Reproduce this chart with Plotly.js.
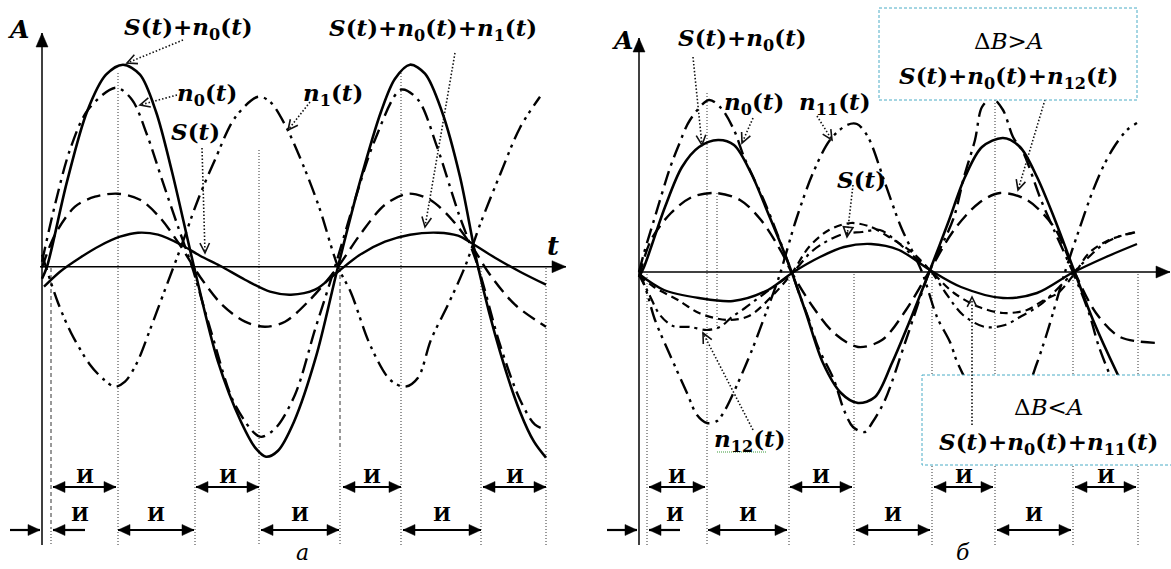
<!DOCTYPE html>
<html><head><meta charset="utf-8">
<script src="https://cdn.plot.ly/plotly-3.0.1.min.js"></script>
<style>html,body{margin:0;padding:0;background:#fff}#chart{width:1171px;height:569px}</style>
</head><body><div id="chart"></div>
<script>
// ===== Panel a (t from origin, amplitude A) =====
const a_SN0_t = [0,5,25,45,64,81,98,114,130,152,176,199,214,224,236,252,274,296,318,339,353,368,383,400,418,436,458,478,492,504];
const a_SN0_A = [-0.12,0.0,0.85,1.55,1.92,2.02,1.92,1.55,0.95,0.0,-0.95,-1.55,-1.82,-1.90,-1.84,-1.55,-0.90,0.0,0.85,1.55,1.88,2.02,1.93,1.55,0.90,0.0,-0.85,-1.45,-1.75,-1.91];
const a_N0_t = [0,13,28,46,74,90,105,120,136,150,170,193,218,233,253,273,293,313,333,359,376,395,416,436,458,478,493,504];
const a_N0_A = [0.05,0.62,1.17,1.57,1.79,1.67,1.32,0.87,0.40,0.0,-0.68,-1.38,-1.70,-1.62,-1.28,-0.63,0.0,0.67,1.27,1.77,1.67,1.20,0.55,0.0,-0.78,-1.33,-1.58,-1.63];
const a_N1_t = [0,16,29,48,62,73,83,95,108,123,138,156,173,193,216,228,243,263,278,296,309,328,348,363,376,389,406,423,438,458,478,498];
const a_N1_A = [0.12,-0.36,-0.66,-0.98,-1.13,-1.20,-1.15,-0.96,-0.63,-0.23,0.17,0.67,1.07,1.49,1.70,1.65,1.42,0.97,0.57,0.0,-0.26,-0.78,-1.13,-1.20,-1.11,-0.73,-0.38,0.0,0.42,0.92,1.39,1.70];
const a_SN0N1_t = [0,13,33,53,76,98,118,139,158,180,203,223,243,268,296,318,343,366,388,410,429,448,473,504];
const a_SN0N1_A = [-0.01,0.32,0.60,0.70,0.73,0.67,0.49,0.20,-0.10,-0.38,-0.55,-0.60,-0.55,-0.33,0.0,0.32,0.62,0.73,0.67,0.47,0.22,-0.08,-0.38,-0.60];
const a_S_t = [2,18,38,58,78,96,116,139,158,178,203,228,249,273,296,318,343,368,396,416,429,453,478,504];
const a_S_A = [-0.20,-0.05,0.09,0.21,0.30,0.34,0.32,0.22,0.11,0.01,-0.13,-0.25,-0.28,-0.23,-0.05,0.12,0.25,0.32,0.34,0.31,0.24,0.09,-0.05,-0.18];

// ===== Panel б =====
const b_SN0_t = [0,5,26,43,60,79,95,112,129,143,153,167,184,202,219,236,253,274,291,309,326,343,364,381,398,416,436,454,478,495];
const b_SN0_A = [-0.05,0.05,0.65,1.05,1.25,1.32,1.27,0.99,0.59,0.25,-0.01,-0.41,-0.91,-1.21,-1.31,-1.25,-0.91,-0.41,0.02,0.49,0.95,1.25,1.34,1.25,0.95,0.52,-0.01,-0.48,-1.01,-1.35];
const b_S_t = [0,25,60,94,129,153,181,205,232,260,291,322,364,398,433,467,498];
const b_S_A = [-0.02,-0.18,-0.26,-0.29,-0.18,-0.01,0.15,0.25,0.28,0.22,0.02,-0.15,-0.26,-0.21,-0.01,0.15,0.28];
const b_SN0N12_t = [0,12,32,53,77,101,122,143,153,174,195,219,243,267,291,315,340,361,388,415,436,457,481,519];
const b_SN0N12_A = [-0.05,0.32,0.59,0.75,0.79,0.72,0.52,0.19,-0.01,-0.35,-0.61,-0.75,-0.68,-0.38,0.02,0.42,0.69,0.79,0.72,0.45,-0.01,-0.41,-0.65,-0.71];
const b_N0_t = [0,5,15,31,39,51,70,82,95,105,126,153,160,170,179,195,205,214,226,233,246,267,291,302,315,325,336,343,353,364,374,384,402,415,436,450,460,480];
const b_N0_A = [0,0.19,0.52,1.04,1.25,1.52,1.72,1.64,1.42,1.15,0.69,-0.01,-0.21,-0.48,-0.75,-1.08,-1.38,-1.55,-1.60,-1.51,-1.28,-0.68,0.02,0.25,0.55,0.95,1.32,1.65,1.74,1.62,1.35,1.20,0.72,0.42,-0.05,-0.41,-0.75,-1.25];
const b_N11_t = [0,8,16,31,48,58,68,78,86,98,113,128,140,157,174,191,208,218,229,246,262,283,298,311,319,340,362,385,398,408,414,426,440,453,464,475,488,498];
const b_N11_A = [0.02,-0.21,-0.48,-0.83,-1.21,-1.43,-1.51,-1.49,-1.38,-1.13,-0.78,-0.38,-0.05,0.52,0.99,1.32,1.47,1.48,1.35,0.89,0.45,0.0,-0.45,-0.70,-0.92,-1.28,-1.40,-1.22,-0.91,-0.61,-0.41,0.0,0.42,0.79,1.05,1.25,1.42,1.49];
const b_N12_t = [0,9,21,34,51,68,81,93,106,126,153,171,183,204,223,241,256,273,291,306,324,346,366,381,401,434,454,466,481,498];
const b_N12_A = [-0.03,-0.20,-0.43,-0.54,-0.55,-0.58,-0.55,-0.45,-0.36,-0.21,-0.01,0.19,0.28,0.38,0.40,0.42,0.32,0.17,0.02,-0.20,-0.43,-0.55,-0.53,-0.45,-0.33,-0.01,0.19,0.29,0.36,0.40];
const b_SN0N11_t = [0,15,39,60,88,110,136,153,170,190,212,232,250,274,291,315,340,364,388,405,419,436,450,470,498];
const b_SN0N11_A = [-0.03,-0.15,-0.28,-0.41,-0.48,-0.44,-0.21,-0.01,0.25,0.42,0.49,0.45,0.35,0.19,0.02,-0.21,-0.35,-0.41,-0.38,-0.28,-0.21,-0.01,0.19,0.32,0.40];

// ===== labels =====
const T_SN0 = '<b><i>S</i>(<i>t</i>)+<i>n</i><sub>0</sub>(<i>t</i>)</b>';
const T_SN0N1 = '<b><i>S</i>(<i>t</i>)+<i>n</i><sub>0</sub>(<i>t</i>)+<i>n</i><sub>1</sub>(<i>t</i>)</b>';
const T_SN0N12 = '<b><i>S</i>(<i>t</i>)+<i>n</i><sub>0</sub>(<i>t</i>)+<i>n</i><sub>12</sub>(<i>t</i>)</b>';
const T_SN0N11 = '<b><i>S</i>(<i>t</i>)+<i>n</i><sub>0</sub>(<i>t</i>)+<i>n</i><sub>11</sub>(<i>t</i>)</b>';
const T_N0 = '<b><i>n</i><sub>0</sub>(<i>t</i>)</b>';
const T_N1 = '<b><i>n</i><sub>1</sub>(<i>t</i>)</b>';
const T_N11 = '<b><i>n</i><sub>11</sub>(<i>t</i>)</b>';
const T_N12 = '<b><i>n</i><sub>12</sub>(<i>t</i>)</b>';
const T_S = '<b><i>S</i>(<i>t</i>)</b>';
const T_GT = 'Δ<i>B</i>&gt;<i>A</i>';
const T_LT = 'Δ<i>B</i>&lt;<i>A</i>';
const T_I = '<b>И</b>';

const W = 1171, H = 569;
const PX = X => X / W, PY = Y => 1 - Y / H;
const SERIF = 'DejaVu Serif';

function tr(t, A, panel, dash, width) {
  return {x: t, y: A, xaxis: panel === 'a' ? 'x' : 'x2', yaxis: panel === 'a' ? 'y' : 'y2',
    mode: 'lines', hoverinfo: 'skip', showlegend: false,
    line: {color: '#000', width: width || 2.4, dash: dash || 'solid', shape: 'spline', smoothing: 0.9}};
}
const LONGDASH = '14px,7px';
const DASHDOT = '15px,6px,3px,6px';
const DASHDOTDOT = '16px,6px,3px,5px,3px,6px';
const SHORTDASH = '8px,5px';
const DASHDOT2 = '10px,5px,3px,5px';

const traces = [
  tr(a_SN0_t, a_SN0_A, 'a', 'solid', 2.6),
  tr(a_N0_t, a_N0_A, 'a', DASHDOT, 2.4),
  tr(a_N1_t, a_N1_A, 'a', DASHDOTDOT, 2.4),
  tr(a_SN0N1_t, a_SN0N1_A, 'a', LONGDASH, 2.4),
  tr(a_S_t, a_S_A, 'a', 'solid', 2.4),
  tr(b_SN0_t, b_SN0_A, 'b', 'solid', 2.6),
  tr(b_S_t, b_S_A, 'b', 'solid', 2.4),
  tr(b_SN0N12_t, b_SN0N12_A, 'b', LONGDASH, 2.4),
  tr(b_N0_t, b_N0_A, 'b', DASHDOT, 2.4),
  tr(b_N11_t, b_N11_A, 'b', DASHDOTDOT, 2.4),
  tr(b_N12_t, b_N12_A, 'b', DASHDOT2, 2.2),
  tr(b_SN0N11_t, b_SN0N11_A, 'b', SHORTDASH, 2.2)
];

const shapes = [];
function vline(X, y0, y1, dash, layer) {
  shapes.push({type: 'line', xref: 'paper', yref: 'paper', x0: PX(X), x1: PX(X), y0: PY(y0), y1: PY(y1),
    line: {color: '#333', width: 1, dash: dash || '1px,2px'}, layer: layer || 'below'});
}
vline(51, 268, 528, '4px,3px'); vline(51, 528, 545);
[[118, 73], [195, 268], [259, 150], [401, 73], [481, 268], [546, 268]].forEach(g => vline(g[0], g[1], 545));
vline(340, 268, 450, '4px,3px'); vline(340, 450, 545);
[[647, 274], [707, 93], [789, 274], [854, 274], [932, 274], [995, 100], [1073, 274], [1138, 274]].forEach(g => vline(g[0], g[1], 545));
vline(717, 193, 330);

function pline(x1, y1, x2, y2, dash, w, col) {
  shapes.push({type: 'line', xref: 'paper', yref: 'paper', x0: PX(x1), y0: PY(y1), x1: PX(x2), y1: PY(y2),
    line: {color: col || '#111', width: w || 1.5, dash: dash || 'solid'}, layer: 'above'});
}
function pointer(x1, y1, x2, y2, closed) {
  pline(x1, y1, x2, y2, '1.5px,2px', 1.6);
  const L = 11, ang = 0.45;
  const d = Math.hypot(x2 - x1, y2 - y1), bx = -(x2 - x1) / d, by = -(y2 - y1) / d;
  const c = Math.cos(ang), s = Math.sin(ang);
  const p1 = [x2 + L * (bx * c - by * s), y2 + L * (bx * s + by * c)];
  const p2 = [x2 + L * (bx * c + by * s), y2 + L * (-bx * s + by * c)];
  shapes.push({type: 'path', xref: 'paper', yref: 'paper', layer: 'above',
    path: `M${PX(p1[0])},${PY(p1[1])} L${PX(x2)},${PY(y2)} L${PX(p2[0])},${PY(p2[1])}` + (closed ? ' Z' : ''),
    line: {color: '#111', width: 1.6}, fillcolor: 'rgba(0,0,0,0)'});
}
function tri(x1, y1, x2, y2, L, hw) {
  const d = Math.hypot(x2 - x1, y2 - y1), ux = (x2 - x1) / d, uy = (y2 - y1) / d;
  const bxp = x2 - ux * L, byp = y2 - uy * L;
  const p1 = [bxp - uy * hw, byp + ux * hw], p2 = [bxp + uy * hw, byp - ux * hw];
  shapes.push({type: 'path', xref: 'paper', yref: 'paper', layer: 'above',
    path: `M${PX(x2)},${PY(y2)} L${PX(p1[0])},${PY(p1[1])} L${PX(p2[0])},${PY(p2[1])} Z`,
    line: {color: '#000', width: 0.5}, fillcolor: '#000'});
}
function harrow(X1, X2, Y, both) {
  pline(X1, Y, X2, Y, 'solid', 2.2, '#000');
  tri(X1, Y, X2, Y, 12, 5.5);
  if (both) tri(X2, Y, X1, Y, 12, 5.5);
}
function axisArrow(x1, y1, x2, y2) {
  pline(x1, y1, x2, y2, 'solid', 1.5, '#000');
  tri(x1, y1, x2, y2, 14, 6);
}
pointer(183, 40, 127, 63);
pointer(177, 95, 140, 105);
pointer(202, 148, 205, 253);
pointer(310, 102, 288, 130);
pointer(455, 53, 425, 227);
pointer(693, 57, 702, 145);
pointer(753, 118, 742, 143);
pointer(817, 116, 832, 140);
pointer(853, 185, 847, 237, true);
pointer(753, 430, 703, 333);
pointer(1047, 93, 1018, 190);
function box(x0, y0, x1, y1) {
  shapes.push({type: 'rect', xref: 'paper', yref: 'paper', x0: PX(x0), y0: PY(y0), x1: PX(x1), y1: PY(y1),
    line: {color: '#4bacc6', width: 1, dash: '3px,2px'}, fillcolor: '#fff', layer: 'above'});
}
box(879, 8, 1137, 100);
box(922, 375, 1180, 465);
pointer(972, 425, 972, 297);
pline(717, 452, 767, 452, '1px,1px', 1.2, '#3c9c3c');

axisArrow(42, 545, 42, 33); axisArrow(40, 266.7, 566, 266.7);
axisArrow(639, 545, 639, 38); axisArrow(639, 272, 1170, 272);

const R1 = 487, R2 = 530, L1 = 476, L2 = 514;
const ann = [];
function label(X, Y, text, size) {
  ann.push({xref: 'paper', yref: 'paper', x: PX(X), y: PY(Y), text, showarrow: false,
    xanchor: 'center', yanchor: 'middle', font: {family: SERIF, size: size || 23, color: '#000'}});
}
[[53, 116], [196, 259], [343, 401], [483, 546]].forEach(p => { harrow(p[0], p[1], R1, true); label((p[0] + p[1]) / 2, L1, T_I, 19); });
harrow(10, 40, R2, false); harrow(85, 53, R2, false); label(80, L2, T_I, 19);
[[118, 194], [261, 339], [403, 481]].forEach(p => { harrow(p[0], p[1], R2, true); label((p[0] + p[1]) / 2, L2, T_I, 19); });
[[649, 705], [790, 852], [934, 993], [1075, 1136]].forEach(p => { harrow(p[0], p[1], R1, true); label((p[0] + p[1]) / 2, L1, T_I, 19); });
harrow(607, 637, R2, false); harrow(680, 649, R2, false); label(675, L2, T_I, 19);
[[708, 787], [856, 930], [997, 1071]].forEach(p => { harrow(p[0], p[1], R2, true); label((p[0] + p[1]) / 2, L2, T_I, 19); });

label(18, 30, '<b><i>A</i></b>', 25);
label(188, 29, T_SN0, 23);
label(207, 94, T_N0, 23);
label(195, 131, T_S, 23);
label(333, 94, T_N1, 23);
label(433, 30, T_SN0N1, 23);
label(553, 246, '<b><i>t</i></b>', 26);
label(302, 552, '<i>а</i>', 22);
label(622, 40, '<b><i>A</i></b>', 25);
label(742, 39, T_SN0, 23);
label(754, 103, T_N0, 23);
label(835, 103, T_N11, 23);
label(861, 180, T_S, 23);
label(750, 440, T_N12, 23);
label(1008, 41, T_GT, 23);
label(1008, 77, T_SN0N12, 23);
label(1048, 407, T_LT, 23);
label(1048, 443, T_SN0N11, 23);
label(963, 552, '<i>б</i>', 22);

const layout = {
  width: W, height: H, margin: {l: 0, r: 0, t: 0, b: 0},
  paper_bgcolor: '#fff', plot_bgcolor: '#fff', showlegend: false,
  font: {family: SERIF},
  xaxis: {domain: [0, 1], range: [-42, W - 42], visible: false, fixedrange: true},
  yaxis: {domain: [0, 1], range: [-(H - 266.7) / 100, 266.7 / 100], visible: false, fixedrange: true},
  xaxis2: {domain: [0, 1], range: [-639, W - 639], visible: false, overlaying: 'x', anchor: 'y2', fixedrange: true},
  yaxis2: {domain: [0, 1], range: [-(H - 272) / 100, 272 / 100], visible: false, overlaying: 'y', anchor: 'x2', fixedrange: true},
  shapes, annotations: ann
};
Plotly.newPlot('chart', traces, layout, {staticPlot: true, displayModeBar: false});
</script></body></html>
